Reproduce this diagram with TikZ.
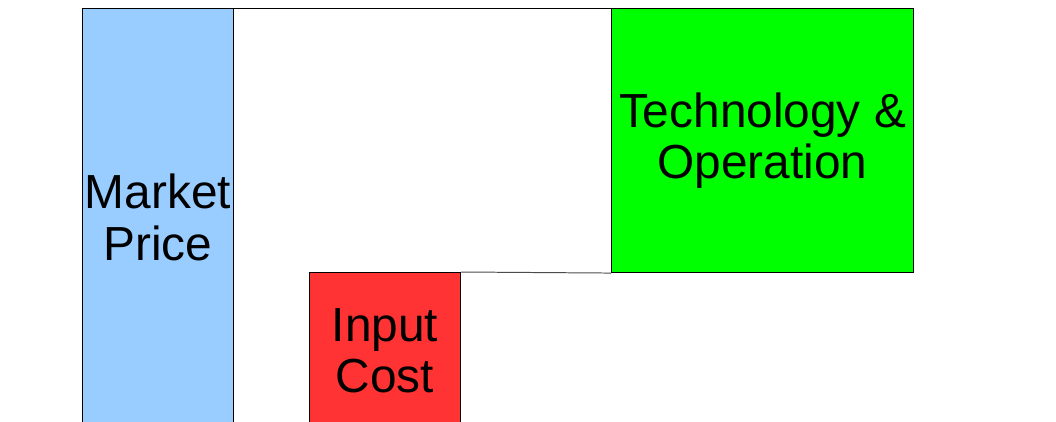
\documentclass[tikz,border=0pt]{standalone}
\usepackage{fontspec}
\setmainfont{Liberation Sans}
\definecolor{prixbleu}{HTML}{99CCFF}
\definecolor{coutrouge}{HTML}{FF3333}
\definecolor{techvert}{HTML}{00FF00}

\begin{document}
\begin{tikzpicture}[x=0.025cm, y=-0.025cm,
    bloc/.style={draw=black, line width=0.7pt, inner sep=0pt, align=center,
        font=\fontsize{34}{36.5}\selectfont}]
    % Cadre de l'image
    \useasboundingbox (0,0) rectangle (1056,421);
    \clip (0,0) rectangle (1056,421);

    % Bloc prix du marche (coupe en bas)
    \node[bloc, fill=prixbleu, minimum width=3.775cm, minimum height=10.45cm, anchor=north west]
        (prix) at (82,8) {Market\\Price};

    % Bloc cout des intrants
    \node[bloc, fill=coutrouge, minimum width=3.775cm, minimum height=3.9cm, anchor=north west]
        (cout) at (309,272) {Input\\Cost};

    % Bloc technologie
    \node[bloc, fill=techvert, minimum width=7.55cm, minimum height=6.6cm, anchor=north west]
        (tech) at (611,8) {Technology \&\\Operation};

    % Traits de liaison
    \draw[line width=0.7pt] (prix.north west) -- (tech.north east);
    \draw[line width=0.7pt, black!70] (cout.north east) -- (tech.south west);
\end{tikzpicture}
\end{document}
